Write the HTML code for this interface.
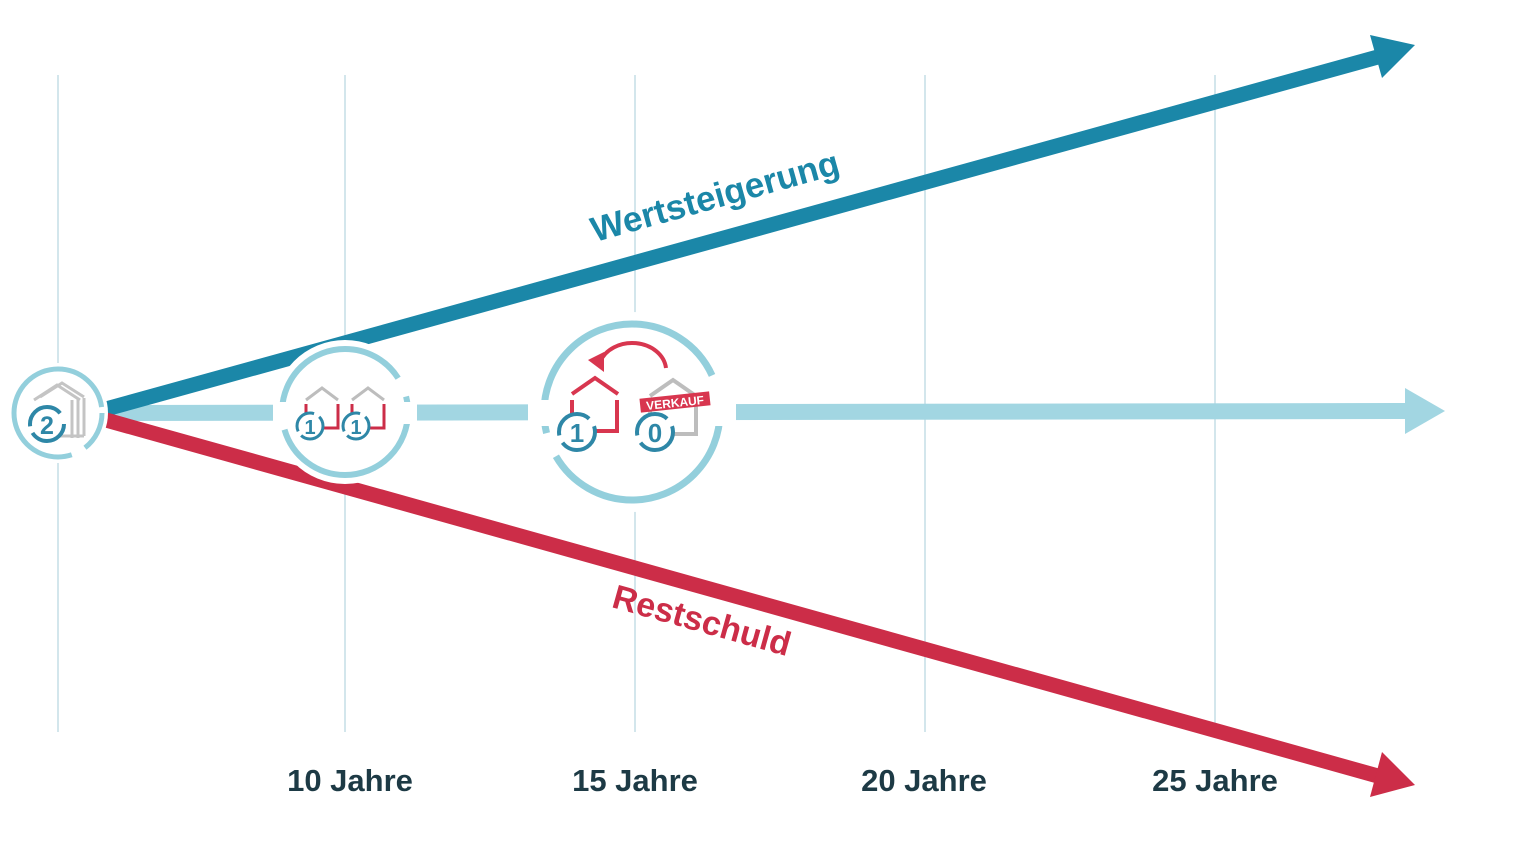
<!DOCTYPE html>
<html><head><meta charset="utf-8"><style>
html,body{margin:0;padding:0;background:#fff;}
svg{display:block;}
text{font-family:"Liberation Sans",sans-serif;font-weight:bold;}
</style></head><body>
<svg width="1530" height="847" viewBox="0 0 1530 847">
<g stroke="#d3e6ec" stroke-width="2">
<line x1="58" y1="75" x2="58" y2="732"/>
<line x1="345" y1="75" x2="345" y2="732"/>
<line x1="635" y1="75" x2="635" y2="732"/>
<line x1="925" y1="75" x2="925" y2="732"/>
<line x1="1215" y1="75" x2="1215" y2="732"/>
</g>
<line x1="105" y1="413" x2="1410" y2="411" stroke="#a2d6e2" stroke-width="16"/>
<polygon points="1405,388 1445,411 1405,434" fill="#a2d6e2"/>
<line x1="106" y1="409" x2="1385" y2="55" stroke="#1b87a8" stroke-width="15"/>
<polygon points="1370,35 1415,45 1382,78" fill="#1b87a8"/>
<line x1="106" y1="420" x2="1385" y2="778" stroke="#cc2d48" stroke-width="15"/>
<polygon points="1382,752 1415,785 1370,797" fill="#cc2d48"/>
<circle cx="58" cy="413" r="50" fill="#fff"/>
<circle cx="58" cy="413" r="44" fill="none" stroke="#93cfdc" stroke-width="5" stroke-dasharray="40 15 215 6"/>
<circle cx="345" cy="412" r="72" fill="#fff"/>
<circle cx="345" cy="412" r="63" fill="none" stroke="#93cfdc" stroke-width="6" stroke-dasharray="180 20 160 20"/>
<rect x="273" y="402" width="144" height="22" fill="#fff"/>
<circle cx="632" cy="412" r="100" fill="#fff"/>
<circle cx="632" cy="412" r="88" fill="none" stroke="#93cfdc" stroke-width="7" stroke-dasharray="230 25 260 38"/>
<rect x="528" y="400" width="208" height="26" fill="#fff"/>
<g fill="none" stroke="#c4c4c4" stroke-width="3">
<polyline points="34,400 57,385 80,400"/>
<polyline points="40,397 62,383 84,397"/>
<line x1="72" y1="400" x2="72" y2="438"/><line x1="78" y1="398" x2="78" y2="438"/><line x1="84" y1="398" x2="84" y2="436"/>
<line x1="36" y1="436" x2="84" y2="436"/>
</g>
<circle cx="47" cy="424" r="17" fill="#fff" stroke="#2e87a7" stroke-width="4" stroke-dasharray="44 7 44 12"/>
<text x="47" y="434" font-size="25" fill="#2e87a7" text-anchor="middle">2</text>
<g fill="none" stroke-width="3">
<polyline points="306,400 322,388 338,400" stroke="#bdbdbd"/>
<polyline points="352,400 368,388 384,400" stroke="#bdbdbd"/>
<polyline points="306,404 306,428 338,428 338,404" stroke="#cc2d48"/>
<polyline points="352,404 352,428 384,428 384,404" stroke="#cc2d48"/>
</g>
<circle cx="310" cy="426" r="13" fill="#fff" stroke="#2e87a7" stroke-width="3" stroke-dasharray="30 5 30 6"/>
<text x="310" y="434" font-size="20" fill="#2e87a7" text-anchor="middle">1</text>
<circle cx="356" cy="426" r="13" fill="#fff" stroke="#2e87a7" stroke-width="3" stroke-dasharray="30 5 30 6"/>
<text x="356" y="434" font-size="20" fill="#2e87a7" text-anchor="middle">1</text>
<path d="M666,368 A34,28 0 0 0 600,362" fill="none" stroke="#d8364f" stroke-width="4"/>
<polygon points="588,360 604,352 604,372" fill="#d8364f"/>
<g fill="none" stroke-width="4">
<polyline points="572,394 595,378 618,394" stroke="#d8364f"/>
<polyline points="572,400 572,431 617,431 617,400" stroke="#d8364f"/>
<polyline points="650,396 673,380 696,396" stroke="#bdbdbd"/>
<polyline points="650,402 650,434 696,434 696,400" stroke="#bdbdbd"/>
</g>
<rect x="640" y="395" width="70" height="14" fill="#d8364f" transform="rotate(-6 675 402)"/>
<text x="675" y="407" font-size="12" fill="#fff" text-anchor="middle" transform="rotate(-6 675 402)">VERKAUF</text>
<circle cx="577" cy="432" r="18" fill="#fff" stroke="#2e87a7" stroke-width="4" stroke-dasharray="45 8 45 9"/>
<text x="577" y="442" font-size="26" fill="#2e87a7" text-anchor="middle">1</text>
<circle cx="655" cy="432" r="18" fill="#fff" stroke="#2e87a7" stroke-width="4" stroke-dasharray="45 8 45 9"/>
<text x="655" y="442" font-size="26" fill="#2e87a7" text-anchor="middle">0</text>
<text x="716" y="208" font-size="35" fill="#1b87a8" text-anchor="middle" transform="rotate(-15.6 716 200)">Wertsteigerung</text>
<text x="702" y="632" font-size="34" fill="#cc2d48" text-anchor="middle" transform="rotate(15.6 702 620)">Restschuld</text>
<g font-size="31" fill="#1d3a45" text-anchor="middle">
<text x="350" y="791">10 Jahre</text>
<text x="635" y="791">15 Jahre</text>
<text x="924" y="791">20 Jahre</text>
<text x="1215" y="791">25 Jahre</text>
</g>
</svg>
</body></html>
